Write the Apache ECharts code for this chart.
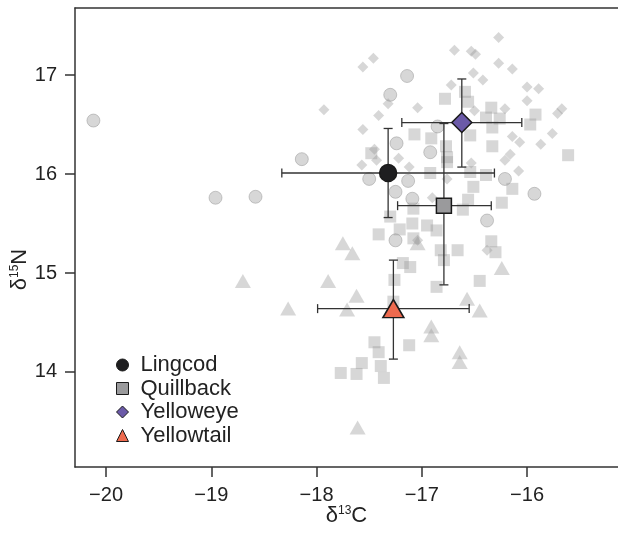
<!DOCTYPE html>
<html><head><meta charset="utf-8">
<script src="https://cdn.jsdelivr.net/npm/echarts@6/dist/echarts.min.js"></script>
<style>html,body{margin:0;padding:0;background:#fff}#c{width:618px;height:537px}</style>
</head><body><div id="c"></div>
<script>
const xTicks = [-20, -19, -18, -17, -16];
const yTicks = [14, 15, 16, 17];
const species = ['Lingcod', 'Quillback', 'Yelloweye', 'Yellowtail'];

const lingcodPts = [[-20.12,16.54],[-18.96,15.76],[-18.58,15.77],[-18.14,16.15],[-17.14,16.99],[-17.30,16.80],[-17.24,16.31],[-17.50,15.95],[-17.13,15.93],[-17.25,15.82],[-17.09,15.75],[-16.92,16.22],[-16.85,16.48],[-16.21,15.95],[-15.93,15.80],[-16.38,15.53],[-17.25,15.33]];
const quillbackPts = [[-16.78,16.76],[-16.59,16.83],[-16.56,16.73],[-16.34,16.67],[-16.26,16.56],[-16.39,16.57],[-16.33,16.47],[-15.92,16.60],[-15.97,16.50],[-17.07,16.40],[-16.91,16.36],[-16.77,16.28],[-16.54,16.39],[-16.33,16.28],[-16.76,16.17],[-16.92,16.01],[-16.54,16.02],[-16.39,15.99],[-16.14,15.85],[-16.24,15.71],[-15.61,16.19],[-16.51,15.87],[-16.56,15.74],[-16.61,15.64],[-17.08,15.65],[-16.95,15.48],[-17.21,15.44],[-17.09,15.50],[-16.86,15.43],[-17.41,15.39],[-16.82,15.23],[-16.66,15.23],[-16.79,15.13],[-16.34,15.32],[-16.30,15.21],[-17.18,15.10],[-17.11,15.06],[-17.26,14.93],[-16.86,14.86],[-16.45,14.92],[-17.27,14.71],[-17.45,14.30],[-17.41,14.20],[-17.12,14.27],[-17.57,14.09],[-17.39,14.06],[-17.77,13.99],[-17.62,13.98],[-17.36,13.94],[-17.30,15.57],[-17.08,15.35],[-17.48,16.21],[-16.76,16.12]];
const yelloweyePts = [[-17.93,16.65],[-17.56,17.08],[-17.46,17.17],[-17.32,16.71],[-17.41,16.59],[-17.56,16.45],[-17.04,16.67],[-17.45,16.25],[-16.69,17.25],[-16.53,17.24],[-16.49,17.21],[-16.27,17.38],[-16.27,17.12],[-16.14,17.06],[-16.51,17.02],[-16.42,16.95],[-16.72,16.90],[-16.00,16.88],[-15.89,16.86],[-16.00,16.74],[-16.21,16.66],[-15.71,16.61],[-15.67,16.66],[-15.76,16.41],[-15.87,16.30],[-16.07,16.32],[-16.16,16.20],[-16.21,16.14],[-16.08,16.03],[-16.50,16.64],[-16.53,16.11],[-17.57,16.09],[-17.12,16.07],[-17.22,16.16],[-16.76,15.95],[-16.90,15.76],[-16.38,15.23],[-17.04,15.33],[-17.43,16.14],[-16.14,16.38]];
const yellowtailPts = [[-18.70,14.92],[-18.27,14.64],[-17.89,14.92],[-17.75,15.30],[-17.66,15.20],[-17.62,14.77],[-17.71,14.63],[-17.04,15.30],[-16.24,15.05],[-16.57,14.74],[-16.45,14.62],[-16.91,14.46],[-16.91,14.37],[-16.64,14.20],[-16.64,14.10],[-17.61,13.44]];

const meanX = [-17.32, -16.79, -16.62, -17.27];
const meanY = [16.01, 15.68, 16.52, 14.64];
const xLow  = [-18.33, -17.23, -17.19, -17.99];
const xHigh = [-16.31, -16.34, -16.05, -16.55];
const yLow  = [15.56, 14.88, 16.07, 14.13];
const yHigh = [16.46, 16.51, 16.96, 15.13];

const FONT = 'Liberation Sans';
const bgColor = 'rgba(150,150,150,0.48)';
const minus = v => String(v).replace('-', '\u2212');

function bg(name, data, symbol, size, extra) {
  return Object.assign({
    name: name, type: 'scatter', data: data, symbol: symbol, symbolSize: size,
    itemStyle: {color: bgColor}, silent: true, z: 2
  }, extra || {});
}

const meanStyles = [
  {symbol: 'circle', size: 17, color: '#1e1e20'},
  {symbol: 'rect', size: 15, color: '#9a9a9c'},
  {symbol: 'diamond', size: [20, 20], color: '#6b5aa8'},
  {symbol: 'triangle', size: [21, 18], color: '#ee6a4e'}
];

const errData = species.map((s, i) => [meanX[i], meanY[i], xLow[i], xHigh[i], yLow[i], yHigh[i]]);

const series = [
  bg('Lingcod pts', lingcodPts, 'circle', 13, {itemStyle: {color: bgColor, borderColor: 'rgba(120,120,120,0.45)', borderWidth: 1}}),
  bg('Quillback pts', quillbackPts, 'rect', 12),
  bg('Yelloweye pts', yelloweyePts, 'diamond', [11, 11]),
  bg('Yellowtail pts', yellowtailPts, 'triangle', [16, 14]),
  {
    type: 'custom', name: 'err', silent: true, z: 5,
    data: errData,
    encode: {x: [0, 2, 3], y: [1, 4, 5]},
    renderItem: function (params, api) {
      const c = api.coord([api.value(0), api.value(1)]);
      const xl = api.coord([api.value(2), api.value(1)]);
      const xh = api.coord([api.value(3), api.value(1)]);
      const yl = api.coord([api.value(0), api.value(4)]);
      const yh = api.coord([api.value(0), api.value(5)]);
      const cap = 4.5;
      const st = {stroke: '#333', lineWidth: 1.3, fill: null};
      const L = (x1, y1, x2, y2) => ({type: 'line', shape: {x1, y1, x2, y2}, style: st});
      return {type: 'group', children: [
        L(xl[0], c[1], xh[0], c[1]),
        L(xl[0], c[1] - cap, xl[0], c[1] + cap),
        L(xh[0], c[1] - cap, xh[0], c[1] + cap),
        L(c[0], yl[1], c[0], yh[1]),
        L(c[0] - cap, yl[1], c[0] + cap, yl[1]),
        L(c[0] - cap, yh[1], c[0] + cap, yh[1])
      ]};
    }
  }
];
species.forEach((s, i) => {
  series.push({
    name: s, type: 'scatter', z: 10,
    data: [[meanX[i], meanY[i]]],
    symbol: meanStyles[i].symbol, symbolSize: meanStyles[i].size,
    itemStyle: {color: meanStyles[i].color, borderColor: '#1a1a1a', borderWidth: 1.5, opacity: 1}
  });
});

const axisCommon = {
  axisLine: {show: true, onZero: false, lineStyle: {color: '#333', width: 1.5}},
  axisTick: {show: true, inside: false, length: 10, lineStyle: {color: '#333', width: 1.5}},
  splitLine: {show: false},
  axisLabel: {color: '#222', fontFamily: FONT, fontSize: 20, margin: 18, formatter: minus}
};

const chart = echarts.init(document.getElementById('c'), null, {renderer: 'canvas'});
chart.setOption({
  animation: false,
  backgroundColor: '#fff',
  grid: {left: 75, right: 0, top: 8, bottom: 70, containLabel: false, outerBoundsMode: 'none'},
  xAxis: [
    Object.assign({}, axisCommon, {
      type: 'value', min: -20.295, max: -15.136,
      axisTick: Object.assign({}, axisCommon.axisTick, {customValues: xTicks}),
      axisLabel: Object.assign({}, axisCommon.axisLabel, {customValues: xTicks}),
      name: '{a|δ}{b|13}{a|C}', nameLocation: 'middle', nameGap: 38, nameMoveOverlap: false,
      nameTextStyle: {color: '#222', fontFamily: FONT, rich: {
        a: {fontSize: 22, fontFamily: FONT, color: '#222'},
        b: {fontSize: 12, fontFamily: FONT, color: '#222', verticalAlign: 'top', lineHeight: 22}
      }}
    }),
    {type: 'value', position: 'top', min: -20.295, max: -15.136,
      axisLine: {show: true, onZero: false, lineStyle: {color: '#333', width: 1.5}},
      axisTick: {show: false}, axisLabel: {show: false}, splitLine: {show: false}}
  ],
  yAxis: Object.assign({}, axisCommon, {
    type: 'value', min: 13.04, max: 17.677,
    axisTick: Object.assign({}, axisCommon.axisTick, {customValues: yTicks}),
    axisLabel: Object.assign({}, axisCommon.axisLabel, {customValues: yTicks}),
    name: '{a|δ}{b|15}{a|N}', nameLocation: 'middle', nameRotate: 90, nameGap: 44, nameMoveOverlap: false,
    nameTextStyle: {color: '#222', fontFamily: FONT, padding: [0, 64, 0, 0], rich: {
      a: {fontSize: 22, fontFamily: FONT, color: '#222'},
      b: {fontSize: 12, fontFamily: FONT, color: '#222', verticalAlign: 'top', lineHeight: 22}
    }}
  }),
  legend: {
    show: true, orient: 'vertical', left: 116, top: 354, padding: 0,
    itemGap: 1.5, itemWidth: 12, itemHeight: 12,
    data: species,
    textStyle: {fontFamily: FONT, fontSize: 22, color: '#222', lineHeight: 22, padding: [0, 0, 0, 7]},
    itemStyle: {borderColor: '#1a1a1a', borderWidth: 1}
  },
  series: series
});
</script></body></html>
